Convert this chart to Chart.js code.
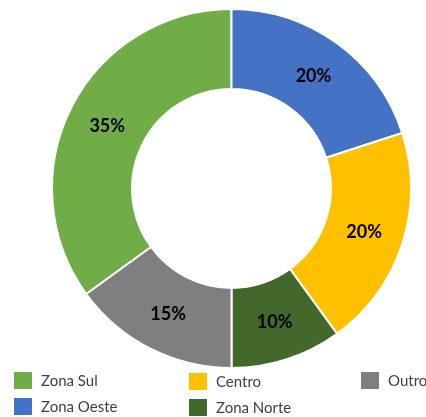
<!DOCTYPE html>
<html>
<head>
<meta charset="utf-8">
<script src="https://cdn.jsdelivr.net/npm/chart.js@4"></script>
<style>
  html, body { margin: 0; padding: 0; background: #fff; }
  #wrap { position: relative; width: 426px; height: 417px; overflow: hidden; }
  #c { position: absolute; left: 0; top: 0; }
  .lg { position: absolute; display: flex; align-items: center; font-family: Lato, "Open Sans", sans-serif; font-size: 15px; color: #404040; white-space: nowrap; }
  .lg .box { width: 18px; height: 17px; margin-right: 9px; flex: none; }
</style>
</head>
<body>
<div id="wrap">
  <canvas id="c" width="426" height="417"></canvas>
</div>
<script>
const categories = ["Zona Sul", "Zona Oeste", "Centro", "Zona Norte", "Outro"];
const values = [35, 20, 20, 10, 15];
const colors = ["#70AD47", "#4472C4", "#FFC000", "#43682B", "#7F7F7F"];
// legend placement (layout only)
const legendPos = [[14, 371], [14, 397], [189, 372], [189, 398], [361, 371]];

const total = values.reduce((a, b) => a + b, 0);

const labelPlugin = {
  id: 'sliceLabels',
  afterDatasetsDraw(chart) {
    const ctx = chart.ctx;
    const meta = chart.getDatasetMeta(0);
    ctx.save();
    ctx.font = 'bold 18px Lato, "Open Sans", sans-serif';
    ctx.fillStyle = '#000';
    ctx.textAlign = 'center';
    ctx.textBaseline = 'middle';
    meta.data.forEach((arc, i) => {
      const p = arc.tooltipPosition();
      const pct = Math.round(values[i] / total * 100) + '%';
      ctx.fillText(pct, p.x, p.y + 1);
    });
    ctx.restore();
  }
};

new Chart(document.getElementById('c'), {
  type: 'doughnut',
  data: {
    labels: categories,
    datasets: [{
      data: values,
      backgroundColor: colors,
      borderColor: '#ffffff',
      borderWidth: 2,
      hoverOffset: 0
    }]
  },
  options: {
    responsive: false,
    animation: false,
    rotation: -126,
    radius: 179.5,
    cutout: '55.4%',
    layout: { padding: { left: 52.5, right: 15.5, top: 8, bottom: 48 } },
    plugins: {
      legend: { display: false },
      tooltip: { enabled: false }
    },
    events: []
  },
  plugins: [labelPlugin]
});

const wrap = document.getElementById('wrap');
categories.forEach((name, i) => {
  const d = document.createElement('div');
  d.className = 'lg';
  d.style.left = legendPos[i][0] + 'px';
  d.style.top = legendPos[i][1] + 'px';
  const b = document.createElement('span');
  b.className = 'box';
  b.style.background = colors[i];
  const t = document.createElement('span');
  t.textContent = name;
  d.appendChild(b);
  d.appendChild(t);
  wrap.appendChild(d);
});
</script>
</body>
</html>
